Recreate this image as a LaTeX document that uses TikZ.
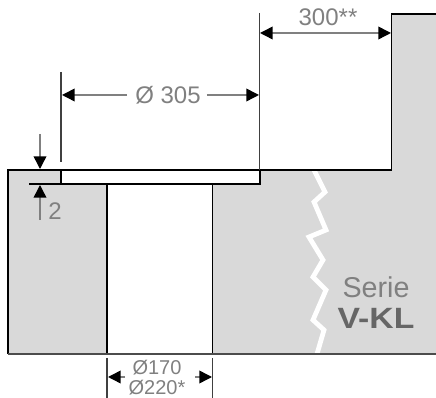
\documentclass[tikz,border=0pt]{standalone}
\usepackage{fontspec}
\setmainfont{Liberation Sans}
\usetikzlibrary{arrows.meta}
\definecolor{blockgray}{gray}{0.85}
\definecolor{labelgray}{gray}{0.5}
\tikzset{
  outline/.style={black, line width=0.9pt},
  extline/.style={black!75, line width=0.9pt},
  dimline/.style={labelgray, line width=1.1pt, {Triangle[length=9.5pt,width=9.5pt,color=black]}-{Triangle[length=9.5pt,width=9.5pt,color=black]}},
  dimhalf/.style={labelgray, line width=1.1pt, -{Triangle[length=9.5pt,width=9.5pt,color=black]}},
  dimtext/.style={text=labelgray, font=\fontsize{18}{18}\selectfont, inner sep=0pt},
  smalltext/.style={dimtext, font=\fontsize{15}{15}\selectfont}
}
\begin{document}
\begin{tikzpicture}[x=0.75pt,y=-0.75pt]
        \useasboundingbox (0,0) rectangle (436,398);
        % Draw the block
        \fill[blockgray] (8,170) -- (391,170) -- (391,14) -- (436,14) -- (436,354) -- (8,354) -- cycle;
        \fill[white] (61,170) rectangle (260,184);
        \fill[white] (107,184) rectangle (212.5,354);
        % Draw the break line
        \draw[white, line width=3.6pt] (314,170) -- (325,192) -- (314,202) -- (326,230) -- (309,237) -- (323,260) -- (313,277) -- (326,290) -- (313,320) -- (324,330) -- (317,354);
        % Draw the outline
        \draw[outline] (436,14) -- (391.5,14) -- (391.5,170) -- (8,170) -- (8,354);
        \draw[outline] (61,170) -- (61,184) -- (260,184) -- (260,170);
        \draw[outline] (107,184) -- (107,354);
        \draw[outline] (212.5,184) -- (212.5,354);
        \draw[black!70, line width=0.9pt] (8,354) -- (436,354);
        \draw[outline] (29,184) -- (61,184);
        % Extension lines
        \foreach \x/\ya/\yb in {61/72/162, 259.5/13/170, 107/358/398, 212.5/358/398} {
            \draw[extline] (\x,\ya) -- (\x,\yb);
        }
        % Dimensions
        \coordinate (topleft) at (260,33);
        \coordinate (topright) at (391,33);
        \draw[dimline] (topleft) -- (topright);
        \node[dimtext] (topdim) at (328,17) {300**};
        \node[dimtext] (borelabel) at (168,95) {Ø 305};
        \coordinate (boreleft) at (62,95);
        \coordinate (boreright) at (259,95);
        \draw[dimhalf] (borelabel.west) ++(-8,0) -- (boreleft);
        \draw[dimhalf] (borelabel.east) ++(6,0) -- (boreright);
        \coordinate (depthtop) at (40,134);
        \coordinate (depthtip) at (40,169);
        \draw[dimhalf] (depthtop) -- (depthtip);
        \coordinate (deptharm) at (40,220);
        \coordinate (depthup) at (40,185);
        \draw[dimhalf] (deptharm) -- (depthup);
        \node[dimtext] (depthlabel) at (55,211) {2};
        \node[smalltext] (holelabel) at (157,368) {Ø170};
        \node[smalltext] (outerlabel) at (157,387.5) {Ø220*};
        \coordinate (holeleft) at (108,377);
        \coordinate (holeright) at (212,377);
        \draw[dimhalf] (125,377) -- (holeleft);
        \draw[dimhalf] (195,377) -- (holeright);
        % Series label
        \node[dimtext, font=\fontsize{21.5}{21.5}\selectfont] (serie) at (376,287) {Serie};
        \node[dimtext, text=black!60, font=\fontsize{22}{22}\bfseries\selectfont, xscale=1.15] (model) at (376,318) {V-KL};
\end{tikzpicture}
\end{document}
